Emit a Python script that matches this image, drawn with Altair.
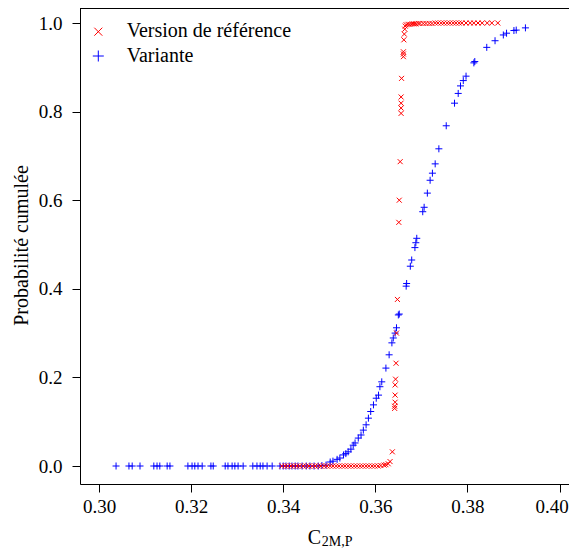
import altair as alt
import pandas as pd

# Variante (blue +)
blue_x = [0.3037, 0.3065, 0.3072, 0.3089, 0.3119, 0.3126, 0.3132, 0.3148, 0.3154,
          0.3193, 0.3202, 0.3208, 0.3215, 0.3224, 0.3243, 0.3248, 0.3274, 0.3280,
          0.3289, 0.3295, 0.3302, 0.3313, 0.3334, 0.3343, 0.3350, 0.3356, 0.3365,
          0.3376, 0.3393, 0.3400, 0.3406, 0.3413, 0.3419, 0.3426, 0.3432, 0.3441,
          0.3450, 0.3458, 0.3467, 0.3476, 0.3484,
          0.3493, 0.3502, 0.3508, 0.3517, 0.3523, 0.3531, 0.3536, 0.3541, 0.3547,
          0.3552, 0.3556, 0.3563, 0.3569, 0.3574, 0.3580, 0.3585, 0.3590, 0.3596,
          0.3602, 0.3607, 0.3610, 0.3614, 0.3623, 0.3630, 0.3636, 0.3639, 0.3643,
          0.3646, 0.3650, 0.3652, 0.3667, 0.3668, 0.3676, 0.3679, 0.3686, 0.3688,
          0.3690, 0.3703, 0.3706, 0.3713, 0.3719, 0.3724, 0.3730, 0.3738, 0.3754,
          0.3772, 0.3780, 0.3785, 0.3791, 0.3797, 0.3814, 0.3816, 0.3842, 0.3860,
          0.3878, 0.3885, 0.3901, 0.3906, 0.3926]
blue_y = [0.0, 0.0, 0.0, 0.0, 0.0, 0.0, 0.0, 0.0, 0.0,
          0.0, 0.0, 0.0, 0.0, 0.0, 0.0, 0.0, 0.0, 0.0,
          0.0, 0.0, 0.0, 0.0, 0.0, 0.0, 0.0, 0.0, 0.0,
          0.0, 0.0, 0.0, 0.0, 0.0, 0.0, 0.0, 0.0, 0.0,
          0.0, 0.0, 0.0, 0.0, 0.001,
          0.002, 0.009, 0.011, 0.015, 0.018, 0.025, 0.028, 0.032, 0.038,
          0.047, 0.052, 0.063, 0.070, 0.081, 0.093, 0.108, 0.123, 0.138,
          0.153, 0.160, 0.179, 0.190, 0.221, 0.251, 0.278, 0.289, 0.300,
          0.312, 0.341, 0.343, 0.406, 0.412, 0.451, 0.465, 0.493, 0.504,
          0.514, 0.574, 0.584, 0.616, 0.645, 0.661, 0.682, 0.716, 0.768,
          0.819, 0.841, 0.858, 0.870, 0.880, 0.910, 0.913, 0.945, 0.960,
          0.973, 0.977, 0.983, 0.984, 0.989]

# Version de référence (red x)
red_x = [0.3397, 0.3404, 0.3410, 0.3417, 0.3423, 0.3430, 0.3436, 0.3443, 0.3450,
         0.3456, 0.3463, 0.3469, 0.3476, 0.3482, 0.3489, 0.3495, 0.3502, 0.3508,
         0.3515, 0.3521, 0.3528, 0.3534, 0.3541, 0.3547, 0.3554, 0.3560, 0.3567,
         0.3573, 0.3580, 0.3586, 0.3593, 0.3599, 0.3606, 0.3612, 0.3619, 0.3623,
         0.3628, 0.3632,
         0.3637, 0.3642, 0.3642, 0.3643, 0.3643, 0.3643, 0.3644, 0.3645, 0.3646,
         0.3648, 0.3651, 0.3652, 0.3654, 0.3656, 0.3656, 0.3656, 0.3656, 0.3657,
         0.3661, 0.3661, 0.3661, 0.3662, 0.3663, 0.3664, 0.3665,
         0.3667, 0.3671, 0.3675, 0.3680, 0.3684, 0.3688, 0.3693, 0.3697, 0.3704,
         0.3710, 0.3717, 0.3723, 0.3730, 0.3736, 0.3743, 0.3749, 0.3756, 0.3762,
         0.3769, 0.3775, 0.3782, 0.3788, 0.3797, 0.3806, 0.3814, 0.3823, 0.3832,
         0.3843, 0.3853, 0.3866]
red_y = [0.0, 0.0, 0.0, 0.0, 0.0, 0.0, 0.0, 0.0, 0.0,
         0.0, 0.0, 0.0, 0.0, 0.0, 0.0, 0.0, 0.0, 0.0,
         0.0, 0.0, 0.0, 0.0, 0.0, 0.0, 0.0, 0.0, 0.0,
         0.0, 0.0, 0.0, 0.0, 0.0, 0.0, 0.001, 0.002, 0.003,
         0.005, 0.010,
         0.032, 0.130, 0.135, 0.144, 0.160, 0.183, 0.196, 0.232, 0.300,
         0.376, 0.550, 0.600, 0.687, 0.796, 0.808, 0.819, 0.833, 0.875,
         0.924, 0.930, 0.935, 0.962, 0.975, 0.986, 0.993,
         0.996, 0.997, 0.997, 0.998, 0.998, 0.998, 0.999, 0.999, 0.999,
         0.999, 0.999, 0.999, 1.0, 1.0, 1.0, 1.0, 1.0, 1.0,
         1.0, 1.0, 1.0, 1.0, 1.0, 1.0, 1.0, 1.0, 1.0,
         1.0, 1.0, 1.0]

legend_labels = ["Version de référence", "Variante"]
x_ticks = [0.30, 0.32, 0.34, 0.36, 0.38, 0.40]
y_ticks = [0.0, 0.2, 0.4, 0.6, 0.8, 1.0]
y_title = "Probabilité cumulée"
x_title_main = "C"
x_title_sub = "2M,P"

W, H = 489, 476
FONT = "'Liberation Serif', 'Times New Roman', Times, serif"
PLUS = "M-1,0L1,0M0,-1L0,1"
CROSS = "M-1,-1L1,1M-1,1L1,-1"

df_b = pd.DataFrame({"x": blue_x, "y": blue_y})
df_r = pd.DataFrame({"x": red_x, "y": red_y})

xs = alt.Scale(domain=[0.29587, 0.40206], nice=False, zero=False)
ys = alt.Scale(domain=[-0.04063, 1.03386], nice=False, zero=False)

xaxis = alt.Axis(values=x_ticks, format=".2f", title=None, grid=False,
                 domainColor="black", tickColor="black", tickSize=8,
                 labelFont=FONT, labelFontSize=19, labelColor="black",
                 labelPadding=5,
                 labelOffset={"condition": {"test": "datum.value > 0.395", "value": -8},
                              "value": 0})
yaxis = alt.Axis(values=y_ticks, format=".1f", title=y_title, grid=False,
                 domainColor="black", tickColor="black", tickSize=8,
                 labelFont=FONT, labelFontSize=19, labelColor="black",
                 labelPadding=10,
                 titleFont=FONT, titleFontSize=20, titleFontWeight="normal",
                 titleColor="black", titleX=-53, titleY=237, titleAngle=270,
                 titleAlign="center", titleBaseline="alphabetic")

blue = alt.Chart(df_b).mark_point(
    shape=PLUS, filled=False, size=49, strokeWidth=1, color="#0000FF", opacity=1
).encode(x=alt.X("x:Q", scale=xs, axis=xaxis), y=alt.Y("y:Q", scale=ys, axis=yaxis))

red = alt.Chart(df_r).mark_point(
    shape=CROSS, filled=False, size=25, strokeWidth=1, color="#FF0000", opacity=1
).encode(x=alt.X("x:Q", scale=xs), y=alt.Y("y:Q", scale=ys))

one = pd.DataFrame({"a": [0]})
top_rule = alt.Chart(one).mark_rule(color="black", strokeWidth=1).encode(
    x=alt.value(0), x2=alt.value(W), y=alt.value(0.5))

leg_sym_r = alt.Chart(one).mark_point(
    shape=CROSS, filled=False, size=64, strokeWidth=1, color="#FF0000", opacity=1
).encode(x=alt.value(18.3), y=alt.value(23.7))
leg_sym_b = alt.Chart(one).mark_point(
    shape=PLUS, filled=False, size=121, strokeWidth=1, color="#0000FF", opacity=1
).encode(x=alt.value(18.3), y=alt.value(48))
leg_txt_r = alt.Chart(one).mark_text(
    text=legend_labels[0], font=FONT, fontSize=20, color="black",
    align="left", baseline="alphabetic"
).encode(x=alt.value(46.7), y=alt.value(29.3))
leg_txt_b = alt.Chart(one).mark_text(
    text=legend_labels[1], font=FONT, fontSize=20, color="black",
    align="left", baseline="alphabetic"
).encode(x=alt.value(46.7), y=alt.value(53.7))

xt_main = alt.Chart(one).mark_text(
    text=x_title_main, font=FONT, fontSize=20, color="black",
    align="left", baseline="alphabetic"
).encode(x=alt.value(227.7), y=alt.value(536))
xt_sub = alt.Chart(one).mark_text(
    text=x_title_sub, font=FONT, fontSize=14, color="black",
    align="left", baseline="alphabetic"
).encode(x=alt.value(241.7), y=alt.value(538))

chart = alt.layer(
    blue, red, top_rule, leg_sym_r, leg_sym_b, leg_txt_r, leg_txt_b, xt_main, xt_sub
).properties(
    width=W, height=H,
    autosize=alt.AutoSizeParams(type="none"),
    padding={"left": 72, "top": 0, "right": 0, "bottom": 64},
).configure_view(stroke=None).configure(background="white")

chart.save("out.html", embed_options={"renderer": "svg", "actions": False})
